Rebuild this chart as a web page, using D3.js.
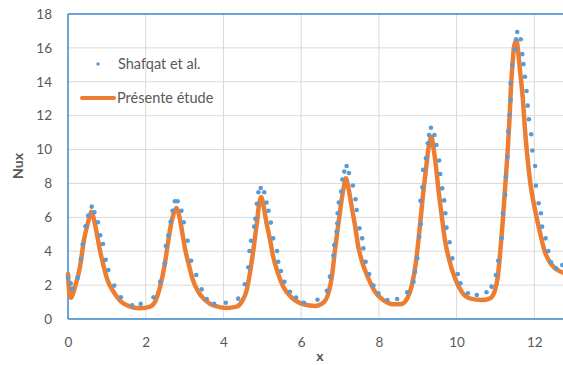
<!DOCTYPE html>
<html><head><meta charset="utf-8">
<script src="https://cdn.jsdelivr.net/npm/d3@7"></script>
<style>html,body{margin:0;padding:0;background:#fff;overflow:hidden}svg{display:block}</style>
</head><body>
<svg id="chart" width="563" height="365"></svg>
<script>
// Reference points (Shafqat et al.)
const refX = [0.00,0.07,0.11,0.25,0.33,0.38,0.45,0.52,0.61,0.68,0.77,0.83,0.90,0.97,1.04,1.19,1.36,1.65,1.87,2.20,2.37,2.49,2.52,2.58,2.64,2.69,2.75,2.82,2.92,2.98,3.08,3.17,3.30,3.44,3.57,3.76,4.06,4.38,4.55,4.64,4.67,4.71,4.79,4.82,4.86,4.90,4.96,5.05,5.11,5.16,5.22,5.28,5.38,5.41,5.48,5.57,5.71,5.87,6.07,6.42,6.66,6.74,6.83,6.85,6.91,6.93,6.94,6.97,7.03,7.06,7.11,7.17,7.23,7.33,7.40,7.43,7.50,7.57,7.60,7.66,7.75,7.86,7.99,8.22,8.47,8.73,8.89,8.93,8.99,9.04,9.08,9.07,9.12,9.14,9.21,9.26,9.29,9.34,9.43,9.48,9.55,9.58,9.63,9.68,9.71,9.74,9.82,9.89,10.03,10.10,10.29,10.52,10.77,10.90,11.01,11.07,11.16,11.19,11.25,11.27,11.31,11.33,11.36,11.39,11.39,11.43,11.50,11.53,11.56,11.65,11.69,11.72,11.76,11.80,11.83,11.86,11.92,11.95,12.02,12.04,12.11,12.17,12.20,12.29,12.36,12.43,12.56,12.72];
const refY = [2.44,2.10,1.79,2.44,3.52,4.41,5.47,6.10,6.63,6.30,5.71,4.94,4.43,3.50,2.89,1.97,1.28,0.81,0.89,1.28,2.20,3.29,4.31,4.92,5.74,6.39,6.95,6.95,6.39,5.71,4.62,3.44,2.60,1.75,1.18,0.89,0.96,1.20,2.05,3.05,4.01,4.62,5.45,5.92,6.80,7.48,7.73,7.48,6.87,6.39,5.69,4.76,4.01,3.38,2.83,2.20,1.61,1.26,0.96,1.14,1.67,2.50,3.74,4.37,5.15,5.65,6.24,6.87,7.52,8.23,8.70,9.03,8.62,7.88,7.07,6.43,5.35,4.76,4.17,3.38,2.66,1.97,1.52,1.12,1.18,1.58,2.20,2.79,3.58,4.84,5.61,6.98,7.77,8.80,9.48,10.37,10.86,11.29,10.86,10.27,9.35,8.56,7.71,7.00,6.24,5.39,4.53,3.58,2.66,2.11,1.52,1.42,1.58,1.91,2.60,3.44,4.76,6.24,7.32,8.40,9.58,11.06,12.04,12.93,13.91,14.99,15.92,16.51,16.94,16.51,15.63,15.04,14.30,13.46,12.59,11.79,10.90,9.94,9.03,7.87,6.83,6.24,5.45,4.76,4.01,3.35,2.99,3.19];

// Present study (curve)
const curX = [0.00,0.04,0.08,0.12,0.18,0.31,0.41,0.51,0.57,0.60,0.65,0.74,0.82,0.91,1.01,1.17,1.34,1.55,1.85,2.11,2.24,2.37,2.48,2.58,2.66,2.73,2.79,2.85,2.93,3.01,3.10,3.20,3.35,3.53,3.78,4.08,4.34,4.47,4.60,4.68,4.77,4.86,4.92,4.97,5.03,5.11,5.20,5.28,5.39,5.54,5.76,6.06,6.36,6.57,6.70,6.79,6.87,6.96,7.04,7.10,7.15,7.21,7.30,7.39,7.47,7.58,7.73,7.90,8.11,8.37,8.59,8.73,8.84,8.95,9.01,9.08,9.14,9.21,9.27,9.32,9.35,9.40,9.47,9.54,9.62,9.70,9.81,9.96,10.13,10.34,10.64,10.86,10.99,11.06,11.12,11.19,11.25,11.31,11.36,11.40,11.44,11.48,11.54,11.58,11.63,11.70,11.76,11.83,11.91,12.02,12.15,12.27,12.45,12.62,12.74];
const curY = [2.65,1.45,1.25,1.45,1.90,3.09,4.66,5.65,6.14,6.33,6.04,5.06,4.07,3.19,2.34,1.61,1.08,0.77,0.63,0.73,1.02,1.91,3.09,4.60,5.70,6.30,6.55,6.20,5.25,4.17,3.29,2.40,1.61,1.12,0.77,0.65,0.73,1.02,1.71,2.70,4.07,5.65,6.83,7.20,6.70,5.65,4.66,3.68,2.79,1.91,1.26,0.87,0.77,0.96,1.52,2.50,4.07,5.65,7.02,7.81,8.30,7.81,6.63,5.45,4.27,3.29,2.40,1.61,1.12,0.87,0.89,1.22,1.91,3.29,4.47,6.04,7.42,8.80,9.98,10.57,10.76,10.17,8.99,7.50,6.04,4.66,3.48,2.40,1.61,1.22,1.12,1.22,1.71,2.50,3.88,5.84,7.81,9.78,11.75,13.71,15.09,16.08,16.45,15.88,14.70,13.12,11.16,9.39,7.81,6.43,5.06,3.97,3.19,2.85,2.73];

const xTicks = [0,2,4,6,8,10,12];
const yTicks = [0,2,4,6,8,10,12,14,16,18];
const seriesNames = ["Shafqat et al.", "Présente étude"];

const W = 563, H = 365;
const mLeft = 68, mTop = 14, mBottom = 319;
const pxPerUnit = 38.86;
const x = d3.scaleLinear().domain([0,14]).range([mLeft, mLeft + 14*pxPerUnit]);
const y = d3.scaleLinear().domain([0,18]).range([mBottom, mTop]);

const svg = d3.select("#chart");
const font = "Lato, 'Open Sans', sans-serif";
const gridC = "#d9d9d9", axisC = "#3a86cf", textC = "#595959";

// gridlines
svg.append("g").selectAll("line").data(yTicks.filter(t => t>0 && t<18)).enter().append("line")
  .attr("x1", mLeft).attr("x2", W).attr("y1", d=>y(d)).attr("y2", d=>y(d))
  .attr("stroke", gridC).attr("stroke-width", 1);
svg.append("g").selectAll("line").data(xTicks.filter(t => t>0)).enter().append("line")
  .attr("x1", d=>x(d)).attr("x2", d=>x(d)).attr("y1", mTop).attr("y2", mBottom)
  .attr("stroke", gridC).attr("stroke-width", 1);

// axes via d3
const yAxis = d3.axisLeft(y).tickValues(yTicks).tickSize(0).tickPadding(16);
const gy = svg.append("g").attr("transform", `translate(${mLeft},0)`).call(yAxis);
gy.select(".domain").remove();
gy.selectAll("text").attr("fill", textC).style("font-family", font).style("font-size", "13.5px");

const xAxis = d3.axisBottom(x).tickValues(xTicks).tickSize(0).tickPadding(18);
const gx = svg.append("g").attr("transform", `translate(0,${mBottom})`).call(xAxis);
gx.select(".domain").remove();
gx.selectAll("text").attr("fill", textC).style("font-family", font).style("font-size", "13.5px");

// border lines
svg.append("line").attr("x1", mLeft).attr("x2", mLeft).attr("y1", mTop).attr("y2", mBottom).attr("stroke", axisC).attr("stroke-width", 1.5);
svg.append("line").attr("x1", mLeft).attr("x2", W).attr("y1", mTop).attr("y2", mTop).attr("stroke", axisC).attr("stroke-width", 1.5);
svg.append("line").attr("x1", mLeft).attr("x2", W).attr("y1", mBottom).attr("y2", mBottom).attr("stroke", axisC).attr("stroke-width", 1.5);

// curve
const curve = curX.map((v,i)=>[v,curY[i]]);
const line = d3.line().x(d=>x(d[0])).y(d=>y(d[1])).curve(d3.curveMonotoneX);
svg.append("path").datum(curve).attr("d", line).attr("fill","none")
  .attr("stroke","#ED7D31").attr("stroke-width",4.5).attr("stroke-linejoin","round").attr("stroke-linecap","round");

// dots
const pts = refX.map((v,i)=>[v,refY[i]]);
svg.append("g").selectAll("circle").data(pts).enter().append("circle")
  .attr("cx", d=>x(d[0])).attr("cy", d=>y(d[1])).attr("r", 2.3).attr("fill", "#5B9BD5");

// axis titles
svg.append("text").attr("x", 320).attr("y", 361).attr("text-anchor","middle")
  .attr("fill", textC).style("font-family", font).style("font-size","14px").style("font-weight","bold").text("x");
svg.append("text").attr("transform","translate(23,166) rotate(-90)").attr("text-anchor","middle")
  .attr("fill", textC).style("font-family", font).style("font-size","14px").style("font-weight","bold").text("Nux");

// legend
const lg = svg.append("g");
lg.append("circle").attr("cx", 98).attr("cy", 64).attr("r", 1.8).attr("fill", "#5B9BD5");
lg.append("text").attr("x", 118).attr("y", 64).attr("dy","0.35em").attr("fill", textC)
  .style("font-family", font).style("font-size","14.5px").text(seriesNames[0]);
lg.append("line").attr("x1", 82).attr("x2", 114).attr("y1", 98).attr("y2", 98)
  .attr("stroke","#ED7D31").attr("stroke-width",4).attr("stroke-linecap","round");
lg.append("text").attr("x", 117).attr("y", 98).attr("dy","0.35em").attr("fill", textC)
  .style("font-family", font).style("font-size","14.5px").text(seriesNames[1]);
</script>
</body></html>
